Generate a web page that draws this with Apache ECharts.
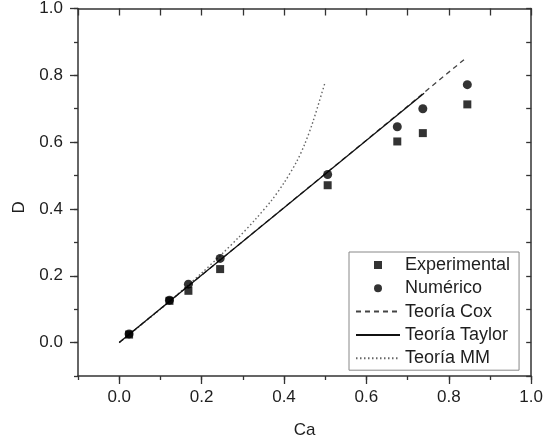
<!DOCTYPE html>
<html>
<head>
<meta charset="utf-8">
<script src="https://cdn.jsdelivr.net/npm/echarts@6/dist/echarts.min.js"></script>
<style>html,body{margin:0;padding:0;background:#fff;}#c{width:546px;height:444px;}</style>
</head>
<body>
<div id="c"></div>
<script>
// ---- data ----
const expX = [0.024, 0.122, 0.168, 0.245, 0.506, 0.675, 0.737, 0.845];
const expY = [0.024, 0.125, 0.155, 0.220, 0.471, 0.602, 0.627, 0.713];
const numX = [0.024, 0.122, 0.168, 0.245, 0.506, 0.675, 0.737, 0.845];
const numY = [0.026, 0.127, 0.175, 0.252, 0.503, 0.646, 0.700, 0.772];
const coxX = [0.0, 0.2, 0.4, 0.6, 0.84];
const coxY = [0.0, 0.202, 0.404, 0.606, 0.850];
const taylorX = [0.0, 0.74];
const taylorY = [0.0, 0.746];
const mmX = [0.0, 0.10, 0.17, 0.20, 0.25, 0.29, 0.33, 0.37, 0.40, 0.43, 0.45, 0.47, 0.50];
const mmY = [0.0, 0.10, 0.175, 0.208, 0.266, 0.315, 0.368, 0.426, 0.478, 0.540, 0.593, 0.660, 0.780];
const xTicks = [0.0, 0.2, 0.4, 0.6, 0.8, 1.0];
const yTicks = [0.0, 0.2, 0.4, 0.6, 0.8, 1.0];
const names = ['Experimental', 'Numérico', 'Teoría Cox', 'Teoría Taylor', 'Teoría MM'];

const pair = (xs, ys) => xs.map((x, i) => [x, ys[i]]);
const FONT = 'Liberation Sans, Arial, sans-serif';
const AX = '#333';
const TXT = '#1e1e1e';
const NONE = 'rgba(0,0,0,0)';

const chart = echarts.init(document.getElementById('c'), null, {renderer: 'canvas'});
chart.setOption({
  animation: false,
  backgroundColor: '#fff',
  textStyle: {fontFamily: FONT},
  grid: {left: 78, right: 13, top: 8, bottom: 68, containLabel: false},
  legend: {
    left: 349, top: 252, orient: 'vertical',
    data: [
      {name: names[0], icon: 'path://M0,0H8V8H0Z'},
      {name: names[1]},
      {name: names[2]},
      {name: names[3]},
      {name: names[4]}
    ],
    itemWidth: 44, itemHeight: 8, itemGap: 5.3,
    padding: [4, 9, 3, 6],
    borderColor: '#888', borderWidth: 1, backgroundColor: '#fff',
    textStyle: {fontSize: 18, lineHeight: 18, color: TXT, fontFamily: FONT},
    selectedMode: false
  },
  xAxis: [
    {
      type: 'value', position: 'bottom', min: -0.1, max: 1.0,
      name: 'Ca', nameLocation: 'middle', nameGap: 46,
      nameTextStyle: {fontSize: 17, color: TXT, fontFamily: FONT},
      axisLine: {show: true, onZero: false, lineStyle: {color: AX, width: 1.5}},
      axisTick: {show: true, inside: false, length: 8, customValues: xTicks, lineStyle: {color: AX, width: 1.3}},
      axisLabel: {show: true, margin: 13, fontSize: 17, color: TXT, fontFamily: FONT,
        customValues: xTicks, formatter: v => v.toFixed(1)},
      splitLine: {show: false}
    },
    {
      type: 'value', position: 'bottom', min: -0.1, max: 1.0, interval: 0.1,
      axisLine: {show: false, onZero: false},
      axisTick: {show: true, inside: false, length: 4, lineStyle: {color: AX, width: 1.3}},
      axisLabel: {show: false},
      splitLine: {show: false}
    },
    {
      type: 'value', position: 'top', min: -0.1, max: 1.0, interval: 0.1,
      axisLine: {show: true, onZero: false, lineStyle: {color: AX, width: 1.5}},
      axisTick: {show: true, inside: true, length: 7, lineStyle: {color: AX, width: 1.3}},
      axisLabel: {show: false},
      splitLine: {show: false}
    }
  ],
  yAxis: [
    {
      type: 'value', position: 'left', min: -0.1, max: 1.0,
      name: 'D', nameLocation: 'middle', nameGap: 50,
      nameTextStyle: {fontSize: 17, color: TXT, fontFamily: FONT, padding: [0, 30, 0, 0]},
      axisLine: {show: true, onZero: false, lineStyle: {color: AX, width: 1.5}},
      axisTick: {show: true, inside: false, length: 8, customValues: yTicks, lineStyle: {color: AX, width: 1.3}},
      axisLabel: {show: true, margin: 15, fontSize: 17, color: TXT, fontFamily: FONT,
        customValues: yTicks, formatter: v => v.toFixed(1)},
      splitLine: {show: false}
    },
    {
      type: 'value', position: 'left', min: -0.1, max: 1.0, interval: 0.1,
      axisLine: {show: false, onZero: false},
      axisTick: {show: true, inside: false, length: 4, lineStyle: {color: AX, width: 1.3}},
      axisLabel: {show: false},
      splitLine: {show: false}
    },
    {
      type: 'value', position: 'right', min: -0.1, max: 1.0, interval: 0.1,
      axisLine: {show: true, onZero: false, lineStyle: {color: AX, width: 1.5}},
      axisTick: {show: true, inside: true, length: 5, lineStyle: {color: AX, width: 1.3}},
      axisLabel: {show: false},
      splitLine: {show: false}
    }
  ],
  series: [
    {
      name: 'Experimental', type: 'scatter', data: pair(expX, expY),
      symbol: 'rect', symbolSize: 8, itemStyle: {color: '#000'}, z: 5
    },
    {
      name: 'Numérico', type: 'scatter', data: pair(numX, numY),
      symbol: 'circle', symbolSize: 9, itemStyle: {color: '#000'}, z: 5
    },
    {
      name: 'Teoría Cox', type: 'line', data: pair(coxX, coxY),
      showSymbol: false, symbol: 'none', z: 3,
      lineStyle: {color: '#444', width: 1.3, type: [5, 4]}, itemStyle: {color: NONE}
    },
    {
      name: 'Teoría Taylor', type: 'line', data: pair(taylorX, taylorY),
      showSymbol: false, symbol: 'none', z: 4,
      lineStyle: {color: '#111', width: 1.3, type: 'solid'}, itemStyle: {color: NONE}
    },
    {
      name: 'Teoría MM', type: 'line', data: pair(mmX, mmY),
      showSymbol: false, symbol: 'none', z: 2, smooth: 0.3,
      lineStyle: {color: '#666', width: 1.4, type: [1.5, 2.5]}, itemStyle: {color: NONE}
    }
  ]
});
</script>
</body>
</html>
